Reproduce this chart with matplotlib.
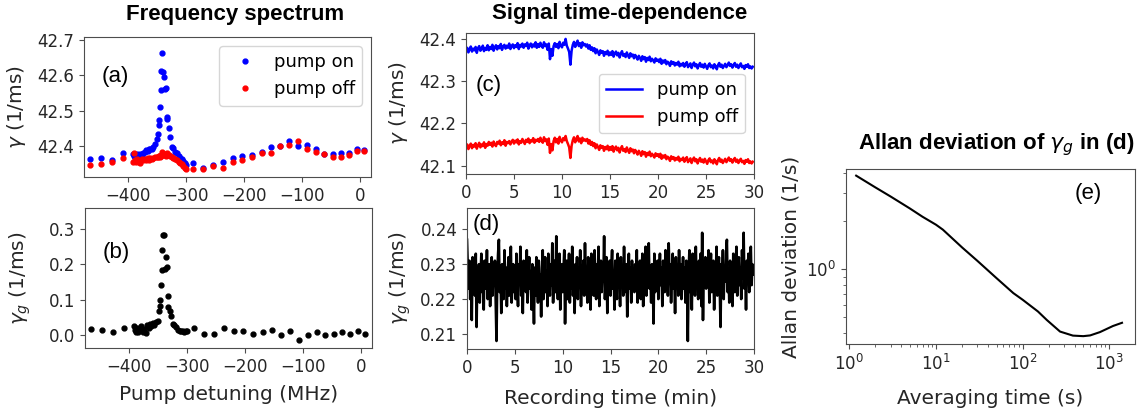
import numpy as np
import matplotlib
matplotlib.use("Agg")
import matplotlib.pyplot as plt

# ----------------------------------------------------------------------
# (a)/(b) frequency spectrum: detuning (MHz), gamma with pump on / off, gamma_g
detuning = [-464.9, -446.6, -427.6, -409.1,
            -391.5, -390.0, -388.5, -386.0, -384.0, -381.5, -379.0, -376.5,
            -374.0, -371.5, -369.0, -366.5, -364.0, -361.5, -359.0, -356.5,
            -354.0, -351.0, -349.0, -347.0, -346.0, -345.3, -343.5, -342.5,
            -341.0, -340.0, -338.0, -336.6, -335.0, -333.5, -332.5, -330.0,
            -327.5, -325.0, -322.0, -319.0, -316.0, -313.0, -310.0, -307.5,
            -305.0, -302.5, -300.0,
            -288.0, -270.5, -253.2, -237.0, -219.7, -203.2, -185.9, -169.7,
            -153.7, -138.2, -122.6, -107.1, -91.5, -76.0, -62.2, -46.2,
            -33.4, -19.6, -5.8, 6.9]

gamma_on = [42.363, 42.366, 42.360, 42.379,
            42.376, 42.372, 42.368, 42.374, 42.377, 42.371, 42.375, 42.372,
            42.378, 42.381, 42.388, 42.385, 42.392, 42.390, 42.391, 42.396,
            42.406, 42.420, 42.434, 42.458, 42.473, 42.509, 42.557, 42.612,
            42.664, 42.610, 42.594, 42.562, 42.565, 42.482, 42.477, 42.449,
            42.426, 42.397, 42.393, 42.383, 42.378, 42.372, 42.366, 42.362,
            42.356, 42.350, 42.345,
            42.350, 42.337, 42.345, 42.355, 42.366, 42.371, 42.374, 42.381,
            42.395, 42.399, 42.413, 42.399, 42.402, 42.391, 42.376, 42.376,
            42.378, 42.378, 42.391, 42.387]

gamma_off = [42.344, 42.349, 42.354, 42.366,
             42.353, 42.379, 42.360, 42.355, 42.362, 42.354, 42.352, 42.363,
             42.358, 42.362, 42.358, 42.364, 42.360, 42.364, 42.362, 42.366,
             42.367, 42.369, 42.368, 42.370, 42.372, 42.368, 42.373, 42.372,
             42.381, 42.376, 42.374, 42.377, 42.372, 42.378, 42.375, 42.373,
             42.370, 42.368, 42.365, 42.362, 42.358, 42.355, 42.351, 42.347,
             42.343, 42.338, 42.334,
             42.333, 42.333, 42.343, 42.336, 42.355, 42.359, 42.369, 42.380,
             42.380, 42.399, 42.402, 42.413, 42.391, 42.383, 42.376, 42.369,
             42.369, 42.374, 42.385, 42.385]

gamma_g = [0.018, 0.014, 0.008, 0.019,
           0.025, 0.015, 0.008, 0.020, 0.009, 0.015, 0.024, 0.008,
           0.018, 0.006, 0.028, 0.020, 0.032, 0.025, 0.033, 0.027,
           0.036, 0.040, 0.067, 0.081, 0.100, 0.143, 0.184, 0.242,
           0.283, 0.283, 0.188, 0.221, 0.192, 0.110, 0.080, 0.067,
           0.053, 0.031, 0.028, 0.023, 0.013, 0.010, 0.012, 0.010,
           0.008, 0.012, 0.010,
           0.019, 0.003, 0.003, 0.019, 0.011, 0.011, 0.003, 0.007,
           0.014, -0.001, 0.011, -0.014, 0.000, 0.008, -0.001, 0.003,
           0.008, 0.003, 0.011, 0.003]

# ----------------------------------------------------------------------
# (c) gamma (1/ms) recorded every 7.5 s over 30 min
rec_on = [
    42.371, 42.379, 42.368, 42.376, 42.382, 42.370, 42.377, 42.373, 42.381, 42.367,
    42.378, 42.383, 42.372, 42.376, 42.384, 42.371, 42.379, 42.374, 42.385, 42.373,
    42.381, 42.376, 42.386, 42.372, 42.380, 42.385, 42.375, 42.383, 42.378, 42.388,
    42.374, 42.382, 42.386, 42.377, 42.384, 42.379, 42.389, 42.376, 42.383, 42.387,
    42.378, 42.385, 42.381, 42.390, 42.376, 42.386, 42.382, 42.389, 42.379, 42.387,
    42.383, 42.391, 42.377, 42.385, 42.389, 42.380, 42.387, 42.382, 42.392, 42.379,
    42.388, 42.381, 42.391, 42.384, 42.379, 42.392, 42.383, 42.387, 42.374, 42.389,
    42.352, 42.376, 42.360, 42.383, 42.390, 42.381, 42.388, 42.378, 42.393, 42.384,
    42.380, 42.391, 42.386, 42.400, 42.384, 42.377, 42.369, 42.339, 42.372, 42.386,
    42.393, 42.381, 42.389, 42.396, 42.383, 42.390, 42.379, 42.392, 42.385, 42.388,
    42.382, 42.387, 42.377, 42.385, 42.374, 42.380, 42.371, 42.378, 42.366, 42.375,
    42.369, 42.362, 42.373, 42.367, 42.371, 42.360, 42.369, 42.364, 42.372, 42.361,
    42.368, 42.362, 42.371, 42.358, 42.366, 42.370, 42.361, 42.367, 42.356, 42.365,
    42.371, 42.360, 42.364, 42.357, 42.368, 42.361, 42.355, 42.366, 42.359, 42.363,
    42.354, 42.362, 42.357, 42.351, 42.360, 42.355, 42.348, 42.359, 42.352, 42.357,
    42.346, 42.355, 42.350, 42.358, 42.347, 42.353, 42.349, 42.344, 42.354, 42.348,
    42.351, 42.345, 42.353, 42.341, 42.349, 42.344, 42.350, 42.340, 42.346, 42.343,
    42.336, 42.347, 42.341, 42.345, 42.337, 42.343, 42.339, 42.346, 42.335, 42.341,
    42.337, 42.343, 42.334, 42.340, 42.345, 42.333, 42.338, 42.342, 42.331, 42.339,
    42.344, 42.335, 42.340, 42.330, 42.337, 42.343, 42.334, 42.339, 42.332, 42.341,
    42.335, 42.329, 42.338, 42.342, 42.333, 42.337, 42.330, 42.340, 42.335, 42.328,
    42.338, 42.343, 42.334, 42.339, 42.331, 42.336, 42.341, 42.333, 42.338, 42.344,
    42.336, 42.340, 42.332, 42.338, 42.343, 42.334, 42.339, 42.331, 42.337, 42.342,
    42.333, 42.336, 42.329, 42.338, 42.334, 42.340, 42.331, 42.335, 42.330, 42.334]

rec_off = [
    42.143, 42.150, 42.139, 42.147, 42.152, 42.141, 42.149, 42.145, 42.153, 42.140,
    42.148, 42.154, 42.143, 42.150, 42.146, 42.155, 42.142, 42.151, 42.147, 42.156,
    42.149, 42.154, 42.145, 42.157, 42.150, 42.146, 42.156, 42.152, 42.159, 42.148,
    42.155, 42.151, 42.160, 42.147, 42.156, 42.153, 42.158, 42.150, 42.157, 42.161,
    42.152, 42.159, 42.155, 42.162, 42.150, 42.158, 42.154, 42.163, 42.157, 42.151,
    42.161, 42.156, 42.164, 42.153, 42.160, 42.157, 42.165, 42.154, 42.161, 42.158,
    42.163, 42.156, 42.166, 42.159, 42.154, 42.167, 42.158, 42.162, 42.149, 42.164,
    42.130, 42.151, 42.136, 42.158, 42.166, 42.155, 42.163, 42.152, 42.168, 42.159,
    42.155, 42.165, 42.160, 42.170, 42.158, 42.151, 42.143, 42.118, 42.147, 42.160,
    42.167, 42.155, 42.163, 42.170, 42.157, 42.164, 42.153, 42.166, 42.159, 42.162,
    42.158, 42.163, 42.152, 42.160, 42.149, 42.156, 42.146, 42.153, 42.141, 42.150,
    42.144, 42.137, 42.148, 42.142, 42.146, 42.135, 42.144, 42.139, 42.147, 42.136,
    42.144, 42.137, 42.146, 42.133, 42.141, 42.145, 42.136, 42.142, 42.131, 42.140,
    42.146, 42.135, 42.139, 42.132, 42.143, 42.136, 42.130, 42.141, 42.134, 42.138,
    42.129, 42.137, 42.132, 42.126, 42.135, 42.130, 42.123, 42.134, 42.127, 42.132,
    42.121, 42.130, 42.125, 42.133, 42.122, 42.128, 42.124, 42.119, 42.129, 42.123,
    42.127, 42.120, 42.128, 42.116, 42.124, 42.119, 42.125, 42.115, 42.121, 42.118,
    42.111, 42.122, 42.116, 42.120, 42.112, 42.118, 42.114, 42.121, 42.110, 42.116,
    42.113, 42.119, 42.109, 42.115, 42.120, 42.108, 42.113, 42.117, 42.106, 42.114,
    42.119, 42.110, 42.115, 42.105, 42.112, 42.118, 42.109, 42.114, 42.107, 42.116,
    42.110, 42.104, 42.113, 42.117, 42.108, 42.112, 42.105, 42.115, 42.110, 42.103,
    42.113, 42.118, 42.109, 42.114, 42.106, 42.111, 42.116, 42.108, 42.113, 42.119,
    42.111, 42.115, 42.107, 42.113, 42.118, 42.109, 42.114, 42.106, 42.112, 42.116,
    42.108, 42.111, 42.104, 42.113, 42.109, 42.115, 42.106, 42.110, 42.105, 42.109]

# (d) gamma_g in 1/s, recorded every 5 s over 30 min
rec_gg = [237, 229, 223, 231, 220, 227, 214, 232, 225, 229, 221, 233, 212, 228, 224,
          230, 219, 226, 233, 222, 228, 217, 231, 225, 223, 234, 220, 227, 230, 218,
          226, 232, 221, 229, 224, 231, 219, 208, 227, 233, 237, 222, 228, 216, 230,
          225, 220, 234, 223, 229, 218, 226, 232, 221, 227, 235, 219, 225, 230, 222,
          228, 220, 233, 224, 218, 230, 226, 235, 221, 227, 216, 231, 225, 229, 222,
          234, 219, 226, 232, 223, 228, 217, 230, 224, 213, 229, 221, 232, 226, 219,
          231, 223, 227, 215, 229, 234, 220, 226, 232, 222, 228, 218, 233, 225, 221,
          230, 224, 236, 219, 227, 231, 222, 238, 225, 220, 229, 233, 217, 226, 230,
          222, 228, 234, 213, 227, 231, 220, 225, 233, 219, 229, 223, 235, 221, 227,
          216, 230, 226, 232, 220, 228, 224, 234, 218, 229, 225, 231, 221, 236, 223,
          227, 219, 232, 225, 229, 217, 233, 224, 228, 221, 234, 226, 220, 230, 223,
          235, 218, 227, 231, 222, 229, 225, 238, 220, 226, 232, 216, 228, 224, 231,
          221, 229, 234, 223, 227, 217, 231, 225, 220, 233, 226, 229, 218, 232, 224,
          228, 221, 235, 222, 227, 230, 215, 226, 233, 223, 229, 219, 231, 225, 228,
          222, 230, 226, 234, 219, 228, 224, 231, 220, 227, 233, 218, 229, 225, 235,
          221, 227, 232, 236, 223, 228, 219, 230, 226, 213, 233, 222, 229, 225, 231,
          220, 227, 233, 224, 229, 218, 231, 226, 222, 234, 225, 228, 221, 236, 226,
          230, 219, 227, 233, 223, 229, 216, 232, 225, 228, 221, 234, 224, 230, 220,
          226, 232, 223, 229, 219, 231, 225, 208, 228, 234, 222, 227, 217, 233, 226,
          230, 221, 235, 224, 228, 220, 231, 226, 233, 218, 239, 214, 229, 225, 232,
          223, 230, 226, 234, 219, 228, 233, 222, 227, 231, 217, 229, 225, 235, 221,
          228, 232, 224, 212, 230, 226, 234, 220, 229, 225, 233, 237, 222, 228, 219,
          231, 225, 229, 218, 233, 226, 222, 230, 235, 221, 227, 232, 224, 229, 220,
          234, 226, 239, 223, 228, 217, 231, 226, 233, 222, 229, 235, 224, 230, 227]

# (e) Allan deviation of gamma_g
tau = [1.2, 2, 3, 5, 7, 10, 12, 20, 30, 50, 78, 100, 150, 190, 270, 380, 500, 600,
       780, 1100, 1400]
adev = [3.85, 3.25, 2.85, 2.40, 2.13, 1.90, 1.77, 1.37, 1.13, 0.88, 0.71, 0.645,
        0.545, 0.482, 0.408, 0.385, 0.382, 0.386, 0.405, 0.442, 0.463]

# ----------------------------------------------------------------------
TXT = "#262626"
plt.rcParams.update({
    "font.family": "DejaVu Sans",
    "axes.edgecolor": "0.3",
    "xtick.color": "0.3",
    "ytick.color": "0.3",
    "xtick.labelcolor": TXT,
    "ytick.labelcolor": TXT,
    "axes.labelcolor": TXT,
    "xtick.labelsize": 12,
    "ytick.labelsize": 12,
    "axes.labelsize": 14.5,
    "legend.fontsize": 13,
})

W, H = 1143, 413
fig = plt.figure(figsize=(W / 100, H / 100), dpi=100)


def px_axes(left, right, top, bottom):
    return fig.add_axes([left / W, (H - bottom) / H, (right - left) / W, (bottom - top) / H])


def panel_label(ax, s, x, y):
    ax.text(x, y, s, transform=ax.transAxes, fontsize=16, family="Liberation Sans",
            va="center", ha="left", color="black")


ax_a = px_axes(84, 371, 37, 177)
ax_b = px_axes(85, 372, 208, 348)
ax_c = px_axes(466, 754, 33, 174)
ax_d = px_axes(467, 754, 208, 349)
ax_e = px_axes(846, 1135, 169, 344)

# (a)
ax_a.plot(detuning, gamma_on, ".", color="blue", ms=7, label="pump on")
ax_a.plot(detuning, gamma_off, ".", color="red", ms=7, label="pump off")
ax_a.set_xlim(-476, 18.5)
ax_a.set_ylim(42.311, 42.709)
ax_a.set_xticks([-400, -300, -200, -100, 0])
ax_a.set_yticks([42.4, 42.5, 42.6, 42.7])
ax_a.set_ylabel(r"$\gamma$ (1/ms)")
ax_a.yaxis.set_label_coords(-0.195, 0.5)
ax_a.legend(loc="upper right", handletextpad=0.6)
panel_label(ax_a, "(a)", 0.063, 0.72)

# (b)
ax_b.plot(detuning, gamma_g, ".", color="black", ms=7)
ax_b.set_xlim(-476, 18.5)
ax_b.set_ylim(-0.037, 0.36)
ax_b.set_xticks([-400, -300, -200, -100, 0])
ax_b.set_yticks([0.0, 0.1, 0.2, 0.3])
ax_b.set_ylabel(r"$\gamma_g$ (1/ms)")
ax_b.yaxis.set_label_coords(-0.181, 0.5)
ax_b.set_xlabel("Pump detuning (MHz)", labelpad=6.8)
panel_label(ax_b, "(b)", 0.063, 0.68)

# (c)
t_c = np.arange(len(rec_on)) * (7.5 / 60)
ax_c.plot(t_c, rec_on, color="blue", lw=1.8, label="pump on")
ax_c.plot(t_c, rec_off, color="red", lw=1.8, label="pump off")
ax_c.set_xlim(0, 30)
ax_c.set_ylim(42.080, 42.414)
ax_c.set_xticks([0, 5, 10, 15, 20, 25, 30])
ax_c.set_yticks([42.1, 42.2, 42.3, 42.4])
ax_c.set_ylabel(r"$\gamma$ (1/ms)")
ax_c.yaxis.set_label_coords(-0.194, 0.5)
ax_c.legend(loc="center right")
panel_label(ax_c, "(c)", 0.035, 0.63)

# (d)
t_d = np.arange(len(rec_gg)) * (5 / 60)
ax_d.plot(t_d, np.array(rec_gg) / 1000, color="black", lw=1.9)
ax_d.set_xlim(0, 30)
ax_d.set_ylim(0.2057, 0.2461)
ax_d.set_xticks([0, 5, 10, 15, 20, 25, 30])
ax_d.set_yticks([0.21, 0.22, 0.23, 0.24])
ax_d.set_ylabel(r"$\gamma_g$ (1/ms)")
ax_d.yaxis.set_label_coords(-0.188, 0.5)
ax_d.set_xlabel("Recording time (min)", labelpad=9.0)
panel_label(ax_d, "(d)", 0.02, 0.88)

# (e)
ax_e.plot(tau, adev, color="black", lw=1.5)
ax_e.set_xscale("log")
ax_e.set_yscale("log")
ax_e.set_xlim(10 ** -0.038, 10 ** 3.296)
ax_e.set_ylim(10 ** -0.467, 10 ** 0.627)
ax_e.set_ylabel("Allan deviation (1/s)")
ax_e.yaxis.set_label_coords(-0.159, 0.5)
ax_e.set_xlabel("Averaging time (s)", labelpad=11.0)
panel_label(ax_e, "(e)", 0.79, 0.86)

# titles
title_kw = dict(fontsize=16, family="Liberation Sans", weight="bold", ha="center",
                va="baseline", color="black")
fig.text(235 / W, 1 - 20 / H, "Frequency spectrum", **title_kw)
fig.text(620 / W, 1 - 19.3 / H, "Signal time-dependence", **title_kw)
fig.text(996.5 / W, 1 - 149.3 / H, r"Allan deviation of $\gamma_g$ in (d)", **title_kw)

fig.savefig("out.png", dpi=100)
